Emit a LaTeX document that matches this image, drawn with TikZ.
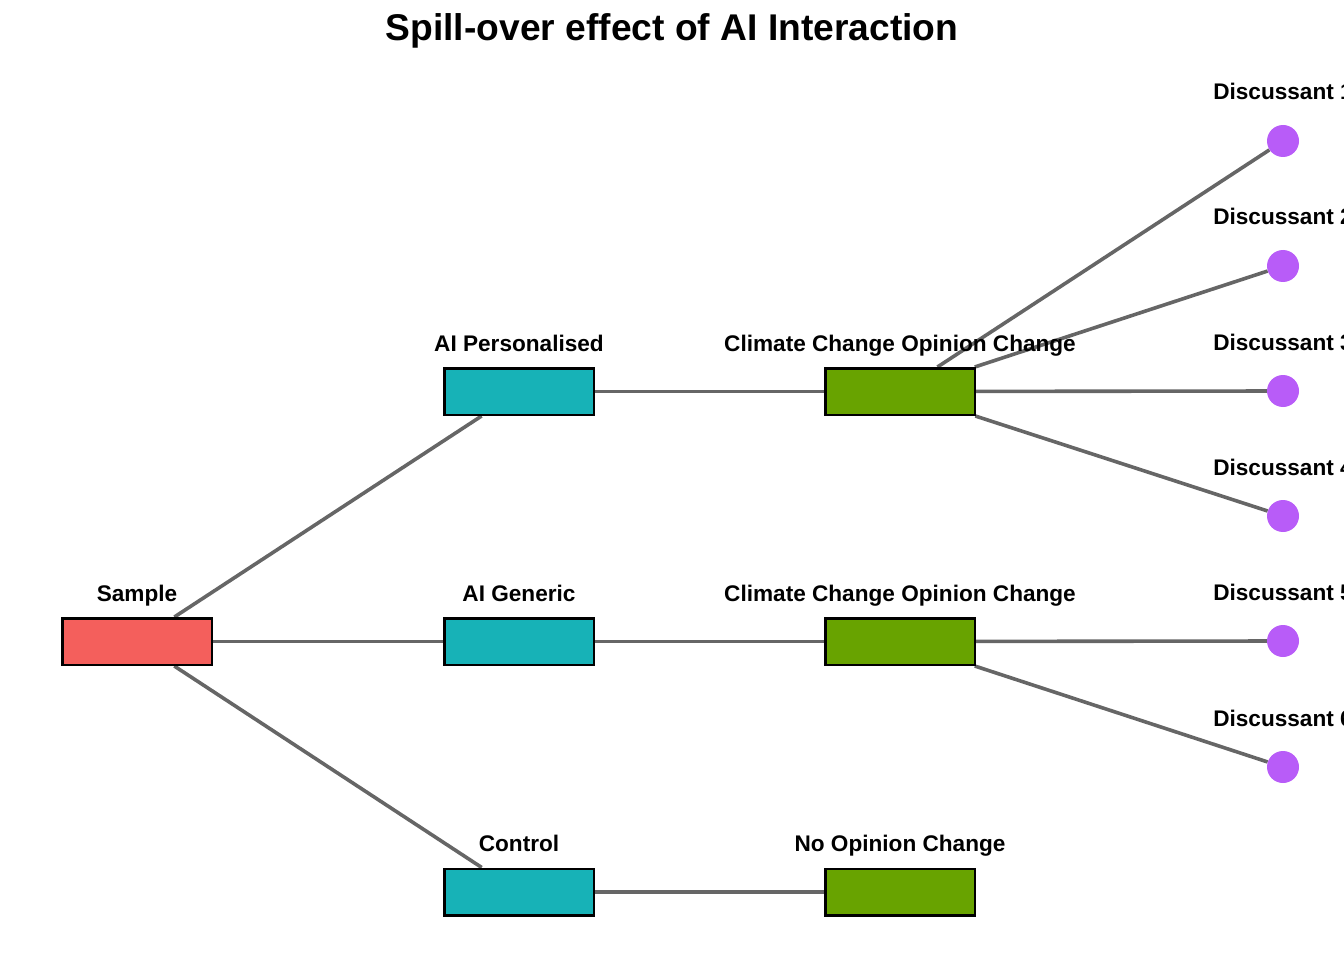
\documentclass[tikz,border=0pt]{standalone}
\usepackage{fontspec}
\setmainfont{Liberation Sans}
\usepackage{tikz}
\usetikzlibrary{positioning,backgrounds}
\definecolor{samplered}{HTML}{F45F5C}
\definecolor{armteal}{HTML}{17B2B7}
\definecolor{changegreen}{HTML}{68A300}
\definecolor{discpurple}{HTML}{B85CF8}
\definecolor{linkgray}{HTML}{666666}
\tikzstyle{box} = [rectangle, sharp corners, draw=black, line width=2.5pt,
                   minimum width=149.5pt, minimum height=46.5pt, inner sep=0pt]
\tikzstyle{disc} = [circle, fill=discpurple, minimum size=32pt, inner sep=0pt]
\tikzstyle{lab} = [anchor=base, inner sep=0pt,
                   font=\fontsize{22.6}{27}\selectfont\bfseries]
\tikzstyle{link} = [draw=linkgray, line width=3.6pt]
\begin{document}
\begin{tikzpicture}[x=1pt,y=-1pt]
\useasboundingbox (0,0) rectangle (1344,960);
%Title
\node[anchor=base, inner sep=0pt, font=\fontsize{37.2}{44}\selectfont\bfseries] at (672,41) (title) {Spill-over effect of AI Interaction};

% Sample
\node[box, fill=samplered] at (137,641.5) (sample) {};
\node[lab] at (137,601) (sample-l) {Sample};

% Arms
\node[box, fill=armteal] at (519,391.5) (pers) {};
\node[box, fill=armteal] at (519,641.5) (gen) {};
\node[box, fill=armteal] at (519,892) (ctrl) {};
\node[lab] at (519,351) (pers-l) {AI Personalised};
\node[lab] at (519,601) (gen-l) {AI Generic};
\node[lab] at (519,851.5) (ctrl-l) {Control};

% Opinion
\node[box, fill=changegreen] at (900,391.5) (ccoc1) {};
\node[box, fill=changegreen] at (900,641.5) (ccoc2) {};
\node[box, fill=changegreen] at (900,892) (noc) {};
\node[lab] at (900,351) (ccoc1-l) {Climate Change Opinion Change};
\node[lab] at (900,601) (ccoc2-l) {Climate Change Opinion Change};
\node[lab] at (900,851.5) (noc-l) {No Opinion Change};

% Discussants
\foreach \i/\y in {1/141,2/266,3/391,4/516,5/641,6/767} {
  \node[disc] at (1283,\y) (d\i) {};
  \node[lab] at (1283,\y-41) (d\i-l) {Discussant \i};
}

%Links
\begin{scope}[on background layer]
\draw[link] (sample) -- (pers);
\draw[link] (sample) -- (gen);
\draw[link] (sample) -- (ctrl);
\draw[link] (pers) -- (ccoc1);
\draw[link] (gen) -- (ccoc2);
\draw[link] (ctrl) -- (noc);
\foreach \i in {1,...,4} \draw[link] (ccoc1) -- (d\i);
\foreach \i in {5,6} \draw[link] (ccoc2) -- (d\i);
\end{scope}
\end{tikzpicture}
\end{document}
